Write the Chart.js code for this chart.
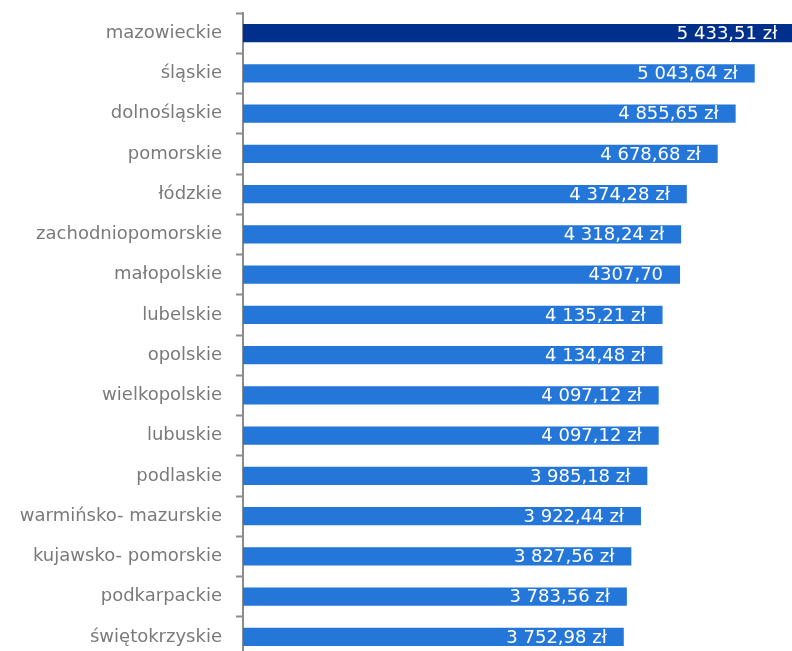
<!DOCTYPE html>
<html>
<head>
<meta charset="utf-8">
<script src="https://cdn.jsdelivr.net/npm/chart.js@4"></script>
<style>
  html, body { margin: 0; padding: 0; background: #fff; overflow: hidden; }
  #wrap { position: relative; width: 792px; height: 657px; }
</style>
</head>
<body>
<div id="wrap"><canvas id="chart"></canvas></div>
<script>
/* ==============================
   Dane
============================== */
const regions = [
    'mazowieckie', 'śląskie', 'dolnośląskie', 'pomorskie', 'łódzkie',
    'zachodniopomorskie', 'małopolskie', 'lubelskie', 'opolskie', 'wielkopolskie',
    'lubuskie', 'podlaskie', 'warmińsko- mazurskie', 'kujawsko- pomorskie',
    'podkarpackie', 'świętokrzyskie'
];
const salaries = [
    5433.51, 5043.64, 4855.65, 4678.68, 4374.28,
    4318.24, 4307.70, 4135.21, 4134.48, 4097.12,
    4097.12, 3985.18, 3922.44, 3827.56, 3783.56, 3752.98
];
const valueLabels = [
    '5 433,51 zł', '5 043,64 zł', '4 855,65 zł', '4 678,68 zł', '4 374,28 zł',
    '4 318,24 zł', '4307,70', '4 135,21 zł', '4 134,48 zł', '4 097,12 zł',
    '4 097,12 zł', '3 985,18 zł', '3 922,44 zł', '3 827,56 zł', '3 783,56 zł', '3 752,98 zł'
];

const FONT = '"DejaVu Sans", Verdana, sans-serif';

/* ==============================
   Etykiety wartości w słupkach
============================== */
const insideEndLabels = {
    id: 'insideEndLabels',
    afterDatasetsDraw(chart) {
        const ctx = chart.ctx;
        const meta = chart.getDatasetMeta(0);
        ctx.save();
        ctx.font = '18px ' + FONT;
        ctx.fillStyle = '#ffffff';
        ctx.textAlign = 'right';
        ctx.textBaseline = 'middle';
        meta.data.forEach((bar, i) => {
            ctx.fillText(valueLabels[i], bar.x - 17, bar.y + 1);
        });
        ctx.restore();
    }
};

const colors = regions.map((r, i) => i === 0 ? '#00308c' : '#2576d9');

new Chart(document.getElementById('chart'), {
    type: 'bar',
    data: {
        labels: regions,
        datasets: [{
            data: salaries,
            backgroundColor: colors,
            borderWidth: 0,
            categoryPercentage: 1,
            barPercentage: 0.45
        }]
    },
    options: {
        indexAxis: 'y',
        responsive: true,
        maintainAspectRatio: false,
        animation: false,
        layout: { padding: { top: 13, right: 0, bottom: 0, left: 0 } },
        scales: {
            x: { display: false, min: 0, max: 5411 },
            y: {
                afterFit: s => {
                    s.width = 243;
                    s.paddingTop = 0;
                    s.paddingBottom = 0;
                },
                border: { display: true, color: '#8c8c8c', width: 2 },
                grid: {
                    offset: true,
                    drawOnChartArea: false,
                    drawTicks: true,
                    tickLength: 7,
                    tickWidth: 2,
                    tickColor: '#8c8c8c'
                },
                ticks: {
                    padding: 14,
                    color: '#7a7a7a',
                    font: { family: FONT, size: 18 }
                }
            }
        },
        plugins: {
            legend: { display: false },
            tooltip: { enabled: false }
        }
    },
    plugins: [insideEndLabels]
});
</script>
</body>
</html>
